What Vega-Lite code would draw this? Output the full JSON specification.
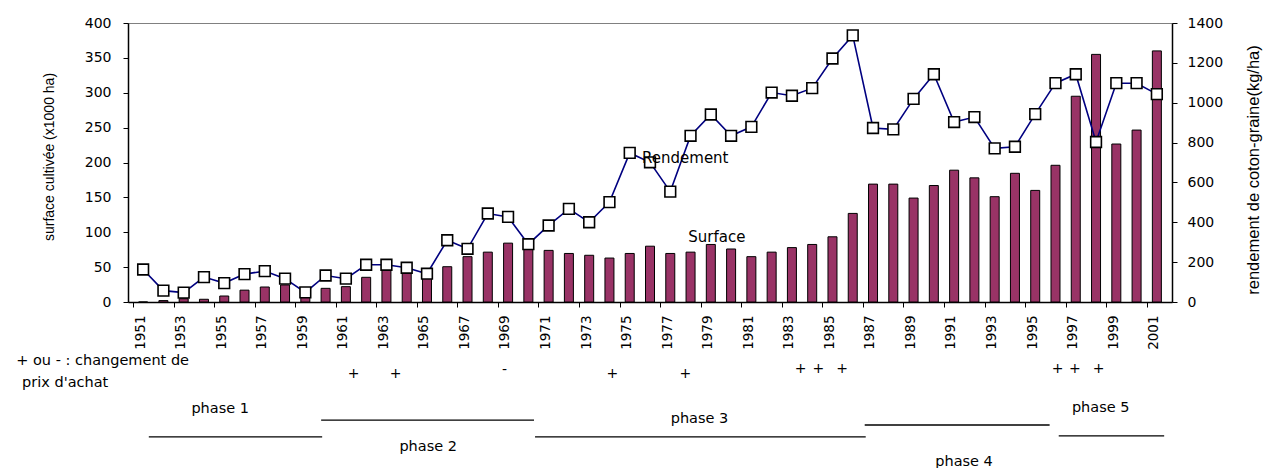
{
  "$schema": "https://vega.github.io/schema/vega-lite/v6.json",
  "width": 1044,
  "height": 279,
  "autosize": {"type": "none"},
  "padding": {"left": 128, "top": 23, "right": 92, "bottom": 166},
  "background": "white",
  "config": {
    "view": {"stroke": "#808080", "strokeWidth": 1},
    "axis": {"grid": false, "domainColor": "black", "tickColor": "black", "labelColor": "black", "titleColor": "black", "titleFontWeight": "normal"}
  },
  "datasets": {
    "production": [
      {"annee": 1951, "surface": 0, "rendement": 163},
      {"annee": 1952, "surface": 2, "rendement": 57},
      {"annee": 1953, "surface": 4.7, "rendement": 47},
      {"annee": 1954, "surface": 3.9, "rendement": 125},
      {"annee": 1955, "surface": 8.6, "rendement": 95},
      {"annee": 1956, "surface": 17, "rendement": 140},
      {"annee": 1957, "surface": 21.5, "rendement": 155},
      {"annee": 1958, "surface": 24.4, "rendement": 117},
      {"annee": 1959, "surface": 8, "rendement": 48},
      {"annee": 1960, "surface": 19.6, "rendement": 133},
      {"annee": 1961, "surface": 22, "rendement": 117},
      {"annee": 1962, "surface": 35.4, "rendement": 187},
      {"annee": 1963, "surface": 47, "rendement": 187},
      {"annee": 1964, "surface": 44, "rendement": 172},
      {"annee": 1965, "surface": 41, "rendement": 142},
      {"annee": 1966, "surface": 50.6, "rendement": 310},
      {"annee": 1967, "surface": 65, "rendement": 267},
      {"annee": 1968, "surface": 71.5, "rendement": 444},
      {"annee": 1969, "surface": 84.4, "rendement": 427},
      {"annee": 1970, "surface": 76, "rendement": 290},
      {"annee": 1971, "surface": 74, "rendement": 384},
      {"annee": 1972, "surface": 69.6, "rendement": 467},
      {"annee": 1973, "surface": 67, "rendement": 400},
      {"annee": 1974, "surface": 63, "rendement": 501},
      {"annee": 1975, "surface": 69.6, "rendement": 748},
      {"annee": 1976, "surface": 80, "rendement": 701},
      {"annee": 1977, "surface": 69.6, "rendement": 554},
      {"annee": 1978, "surface": 71.5, "rendement": 834},
      {"annee": 1979, "surface": 82.5, "rendement": 941},
      {"annee": 1980, "surface": 76, "rendement": 834},
      {"annee": 1981, "surface": 65, "rendement": 879},
      {"annee": 1982, "surface": 71.5, "rendement": 1051},
      {"annee": 1983, "surface": 78, "rendement": 1035},
      {"annee": 1984, "surface": 82.5, "rendement": 1073},
      {"annee": 1985, "surface": 93.5, "rendement": 1222},
      {"annee": 1986, "surface": 127, "rendement": 1338},
      {"annee": 1987, "surface": 169, "rendement": 873},
      {"annee": 1988, "surface": 169, "rendement": 866},
      {"annee": 1989, "surface": 149, "rendement": 1019},
      {"annee": 1990, "surface": 167, "rendement": 1143},
      {"annee": 1991, "surface": 189, "rendement": 903},
      {"annee": 1992, "surface": 178, "rendement": 928},
      {"annee": 1993, "surface": 151, "rendement": 771},
      {"annee": 1994, "surface": 184.5, "rendement": 779},
      {"annee": 1995, "surface": 160, "rendement": 943},
      {"annee": 1996, "surface": 196, "rendement": 1098},
      {"annee": 1997, "surface": 295, "rendement": 1143},
      {"annee": 1998, "surface": 355, "rendement": 803},
      {"annee": 1999, "surface": 226.5, "rendement": 1098},
      {"annee": 2000, "surface": 246.5, "rendement": 1098},
      {"annee": 2001, "surface": 360, "rendement": 1043}
    ],
    "prix": [
      {"annee": 1961.38, "niveau": 43.4, "signe": "+"},
      {"annee": 1963.45, "niveau": 43.4, "signe": "+"},
      {"annee": 1968.82, "niveau": 41, "signe": "-"},
      {"annee": 1974.14, "niveau": 43.4, "signe": "+"},
      {"annee": 1977.74, "niveau": 43.4, "signe": "+"},
      {"annee": 1983.43, "niveau": 40.4, "signe": "+"},
      {"annee": 1984.31, "niveau": 40.4, "signe": "+"},
      {"annee": 1985.48, "niveau": 40.4, "signe": "+"},
      {"annee": 1996.11, "niveau": 40.4, "signe": "+"},
      {"annee": 1996.96, "niveau": 40.4, "signe": "+"},
      {"annee": 1998.13, "niveau": 40.4, "signe": "+"}
    ],
    "phases": [
      {"phase": "phase 1", "debut": 1951.28, "fin": 1959.83, "niveau_trait": 81.3, "centre": 1954.8, "niveau_texte": 64.5},
      {"phase": "phase 2", "debut": 1959.78, "fin": 1970.28, "niveau_trait": 71.1, "centre": 1965.06, "niveau_texte": 87.3},
      {"phase": "phase 3", "debut": 1970.33, "fin": 1986.64, "niveau_trait": 81.3, "centre": 1978.44, "niveau_texte": 70.5},
      {"phase": "phase 4", "debut": 1986.59, "fin": 1995.71, "niveau_trait": 74.1, "centre": 1991.49, "niveau_texte": 96.4},
      {"phase": "phase 5", "debut": 1996.16, "fin": 2001.36, "niveau_trait": 80.7, "centre": 1998.23, "niveau_texte": 63.9}
    ],
    "legende": [
      {"annee": 1944.74, "niveau": 35.5, "texte": "+ ou - : changement de"},
      {"annee": 1945.03, "niveau": 48.8, "texte": "prix d'achat"}
    ],
    "etiquette_rendement": [
      {"annee": 1977.74, "rendement": 722, "texte": "Rendement"}
    ],
    "etiquette_surface": [
      {"annee": 1979.3, "surface": 93.6, "texte": "Surface"}
    ]
  },
  "layer": [
    {
      "data": {"name": "production"},
      "mark": {"type": "bar", "width": 9, "fill": "#993366", "stroke": "black", "strokeWidth": 1},
      "encoding": {
        "x": {
          "field": "annee", "type": "quantitative",
          "scale": {"domain": [1950.5, 2001.5], "nice": false, "zero": false},
          "axis": {
            "values": [1950.5, 1951.5, 1952.5, 1953.5, 1954.5, 1955.5, 1956.5, 1957.5, 1958.5, 1959.5, 1960.5, 1961.5, 1962.5, 1963.5, 1964.5, 1965.5, 1966.5, 1967.5, 1968.5, 1969.5, 1970.5, 1971.5, 1972.5, 1973.5, 1974.5, 1975.5, 1976.5, 1977.5, 1978.5, 1979.5, 1980.5, 1981.5, 1982.5, 1983.5, 1984.5, 1985.5, 1986.5, 1987.5, 1988.5, 1989.5, 1990.5, 1991.5, 1992.5, 1993.5, 1994.5, 1995.5, 1996.5, 1997.5, 1998.5, 1999.5, 2000.5, 2001.5],
            "labelExpr": "(datum.value + 0.5) % 2 == 1 ? '' + (datum.value + 0.5) : ''",
            "labelAngle": -90,
            "labelOffset": 7,
            "labelPadding": 8,
            "labelFont": "DejaVu Sans",
            "labelFontSize": 13.5,
            "labelOverlap": false,
            "labelFlush": false,
            "labelBound": false,
            "tickSize": 5,
            "tickWidth": 1,
            "domainWidth": 1.5,
            "title": null
          }
        },
        "y": {
          "field": "surface", "type": "quantitative",
          "scale": {"domain": [0, 400], "nice": false},
          "axis": {
            "orient": "left",
            "values": [0, 50, 100, 150, 200, 250, 300, 350, 400],
            "format": "d",
            "tickSize": 5,
            "labelPadding": 12,
            "labelFont": "DejaVu Sans",
            "labelFontSize": 14,
            "domainWidth": 1.5,
            "title": "surface cultivée (x1000 ha)",
            "titleFont": "Liberation Sans",
            "titleFontSize": 14,
            "titleAngle": -90,
            "titleX": -78.5,
            "titleY": 133.5,
            "titleAlign": "center",
            "titleBaseline": "middle"
          }
        }
      }
    },
    {
      "data": {"name": "production"},
      "mark": {
        "type": "line", "color": "#000080", "strokeWidth": 1.6,
        "point": {"shape": "square", "filled": true, "fill": "white", "stroke": "black", "strokeWidth": 1.6, "size": 115, "opacity": 1}
      },
      "encoding": {
        "x": {"field": "annee", "type": "quantitative"},
        "y": {
          "field": "rendement", "type": "quantitative",
          "scale": {"domain": [0, 1400], "nice": false},
          "axis": {
            "orient": "right",
            "values": [0, 200, 400, 600, 800, 1000, 1200, 1400],
            "format": "d",
            "tickSize": 5,
            "labelPadding": 10,
            "labelFont": "DejaVu Sans",
            "labelFontSize": 14,
            "domainWidth": 1.5,
            "title": "rendement de coton-graine(kg/ha)",
            "titleFont": "Liberation Sans",
            "titleFontSize": 16.5,
            "titleAngle": -90,
            "titleX": 81,
            "titleY": 146.5,
            "titleAlign": "center",
            "titleBaseline": "middle"
          }
        }
      }
    },
    {
      "data": {"name": "etiquette_rendement"},
      "mark": {"type": "text", "font": "DejaVu Sans", "fontSize": 15, "color": "black", "align": "center", "baseline": "middle"},
      "encoding": {
        "x": {"field": "annee", "type": "quantitative"},
        "y": {"field": "rendement", "type": "quantitative", "scale": {"domain": [0, 1400], "nice": false}, "axis": null},
        "text": {"field": "texte"}
      }
    },
    {
      "data": {"name": "etiquette_surface"},
      "mark": {"type": "text", "font": "DejaVu Sans", "fontSize": 15, "color": "black", "align": "center", "baseline": "middle"},
      "encoding": {
        "x": {"field": "annee", "type": "quantitative"},
        "y": {"field": "surface", "type": "quantitative", "scale": {"domain": [0, 400], "nice": false}, "axis": null},
        "text": {"field": "texte"}
      }
    },
    {
      "data": {"name": "legende"},
      "mark": {"type": "text", "font": "DejaVu Sans", "fontSize": 14.5, "color": "black", "align": "left", "baseline": "middle"},
      "encoding": {
        "x": {"field": "annee", "type": "quantitative"},
        "y": {"field": "niveau", "type": "quantitative", "scale": {"domain": [0, 100], "range": [279, 445], "nice": false, "zero": false}, "axis": null},
        "text": {"field": "texte"}
      }
    },
    {
      "data": {"name": "prix"},
      "mark": {"type": "text", "font": "DejaVu Sans", "fontSize": 14, "color": "black", "align": "center", "baseline": "middle"},
      "encoding": {
        "x": {"field": "annee", "type": "quantitative"},
        "y": {"field": "niveau", "type": "quantitative", "scale": {"domain": [0, 100], "range": [279, 445], "nice": false, "zero": false}, "axis": null},
        "text": {"field": "signe"}
      }
    },
    {
      "data": {"name": "phases"},
      "mark": {"type": "rule", "color": "black", "strokeWidth": 1.3},
      "encoding": {
        "x": {"field": "debut", "type": "quantitative"},
        "x2": {"field": "fin"},
        "y": {"field": "niveau_trait", "type": "quantitative", "scale": {"domain": [0, 100], "range": [279, 445], "nice": false, "zero": false}, "axis": null}
      }
    },
    {
      "data": {"name": "phases"},
      "mark": {"type": "text", "font": "DejaVu Sans", "fontSize": 14.5, "color": "black", "align": "center", "baseline": "middle"},
      "encoding": {
        "x": {"field": "centre", "type": "quantitative"},
        "y": {"field": "niveau_texte", "type": "quantitative", "scale": {"domain": [0, 100], "range": [279, 445], "nice": false, "zero": false}, "axis": null},
        "text": {"field": "phase"}
      }
    }
  ],
  "resolve": {"scale": {"y": "independent"}}
}
